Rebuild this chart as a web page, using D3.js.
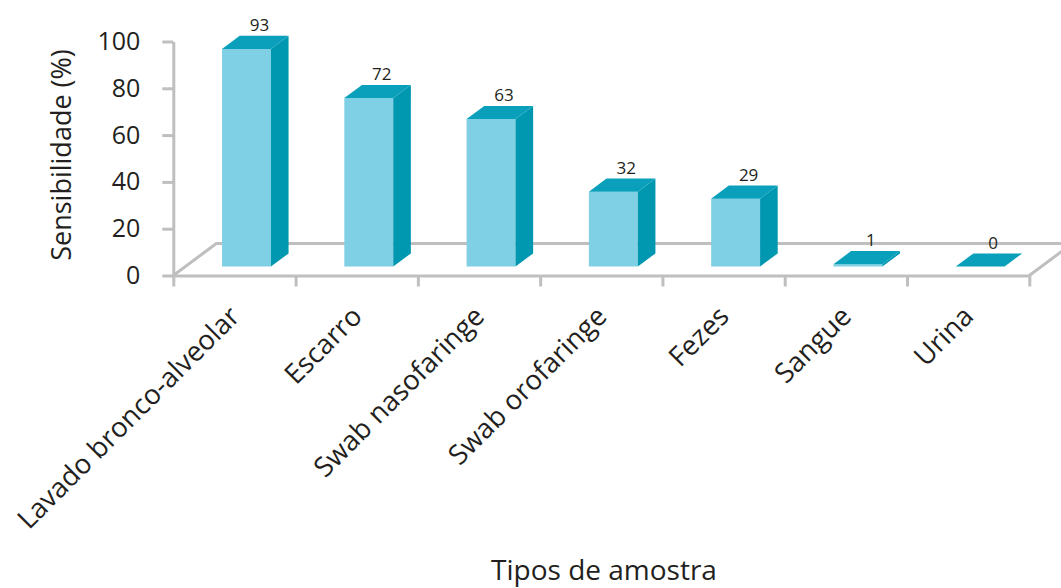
<!DOCTYPE html>
<html>
<head>
<meta charset="utf-8">
<script src="https://cdn.jsdelivr.net/npm/d3@7"></script>
<style>
  body { margin: 0; background: #fff; }
  text { font-family: "Open Sans", sans-serif; fill: #231f20; }
</style>
</head>
<body>
<script>
// sample types and sensitivity values
var categories = ["Lavado bronco-alveolar", "Escarro", "Swab nasofaringe", "Swab orofaringe", "Fezes", "Sangue", "Urina"];
var values = [93, 72, 63, 32, 29, 1, 0];
var yTicks = [0, 20, 40, 60, 80, 100];

var width = 1061, height = 588;
var gray = "#bfbfbf";
var depth = { dx: 43, dy: -32 };   // floor depth (3d offset)
var f1 = 0.28, f2 = 0.69;          // bar front/back inside the floor depth

var svg = d3.select("body").append("svg")
  .attr("width", width)
  .attr("height", height);

var x = d3.scaleBand()
  .domain(categories)
  .range([173.3, 1029.3])
  .padding(0);

var y = d3.scaleLinear()
  .domain([0, 100])
  .range([275.5, 41.5]);

var idx = d3.scaleLinear()
  .domain([0, categories.length])
  .range(x.range());

// floor
var x0 = x.range()[0], x1 = x.range()[1], yb = y(0);
var floor = svg.append("g")
  .attr("fill", "none")
  .attr("stroke", gray)
  .attr("stroke-width", 3);
floor.append("path")
  .attr("d", d3.line()([[x0, yb], [x0 + depth.dx, yb + depth.dy], [x1 + depth.dx, yb + depth.dy], [x1, yb]]));

// bars
var bw = x.bandwidth() * 0.4;
var bars = svg.selectAll("g.bar")
  .data(values)
  .enter()
  .append("g")
  .attr("class", "bar");

function fx(d, i) { return x(categories[i]) + (x.bandwidth() - bw) / 2 + depth.dx * f1; }
var off = { dx: depth.dx * (f2 - f1), dy: depth.dy * (f2 - f1) };

bars.append("path")   // front
  .attr("fill", "#7fd0e4")
  .attr("d", function(d, i) {
    var l = fx(d, i), t = y(d) + depth.dy * f1, b = y(0) + depth.dy * f1;
    return d3.line()([[l, b], [l, t], [l + bw, t], [l + bw, b]]) + "Z";
  });

bars.append("path")   // side
  .attr("fill", "#0097b1")
  .attr("d", function(d, i) {
    var r = fx(d, i) + bw, t = y(d) + depth.dy * f1, b = y(0) + depth.dy * f1;
    return d3.line()([[r, b], [r, t], [r + off.dx, t + off.dy], [r + off.dx, b + off.dy]]) + "Z";
  });

bars.append("path")   // top
  .attr("fill", "#0aa0bb")
  .attr("d", function(d, i) {
    var l = fx(d, i), t = y(d) + depth.dy * f1;
    return d3.line()([[l, t], [l + bw, t], [l + bw + off.dx, t + off.dy], [l + off.dx, t + off.dy]]) + "Z";
  });

bars.append("text")
  .attr("x", function(d, i) { return fx(d, i) + bw / 2 + 13; })
  .attr("y", function(d) { return y(d) - 27; })
  .attr("text-anchor", "middle")
  .style("font-size", "17px")
  .text(function(d) { return d; });

// y axis
var yAxis = svg.append("g")
  .attr("transform", "translate(" + x0 + ",0)")
  .call(d3.axisLeft(y).tickValues(yTicks).tickSize(11).tickSizeOuter(0).tickPadding(22));
yAxis.selectAll("path, line").attr("stroke", gray).attr("stroke-width", 3);
yAxis.selectAll("text").style("font-size", "25px").attr("fill", "#231f20");

// x axis (ticks at band edges)
var xAxis = svg.append("g")
  .attr("transform", "translate(0," + yb + ")")
  .call(d3.axisBottom(idx).tickValues(d3.range(categories.length + 1)).tickFormat("").tickSize(11).tickSizeOuter(0));
xAxis.selectAll("path, line").attr("stroke", gray).attr("stroke-width", 3);

svg.selectAll("text.cat")
  .data(categories)
  .enter()
  .append("text")
  .attr("class", "cat")
  .attr("text-anchor", "end")
  .attr("transform", function(d) {
    return "translate(" + (x(d) + x.bandwidth() / 2 + 7) + ",318) rotate(-45)";
  })
  .style("font-size", "27.5px")
  .text(function(d) { return d; });

// axis titles
svg.append("text")
  .attr("transform", "translate(71,155) rotate(-90)")
  .attr("text-anchor", "middle")
  .style("font-size", "27px")
  .text("Sensibilidade (%)");

svg.append("text")
  .attr("x", 604)
  .attr("y", 580)
  .attr("text-anchor", "middle")
  .style("font-size", "28px")
  .text("Tipos de amostra");
</script>
</body>
</html>
